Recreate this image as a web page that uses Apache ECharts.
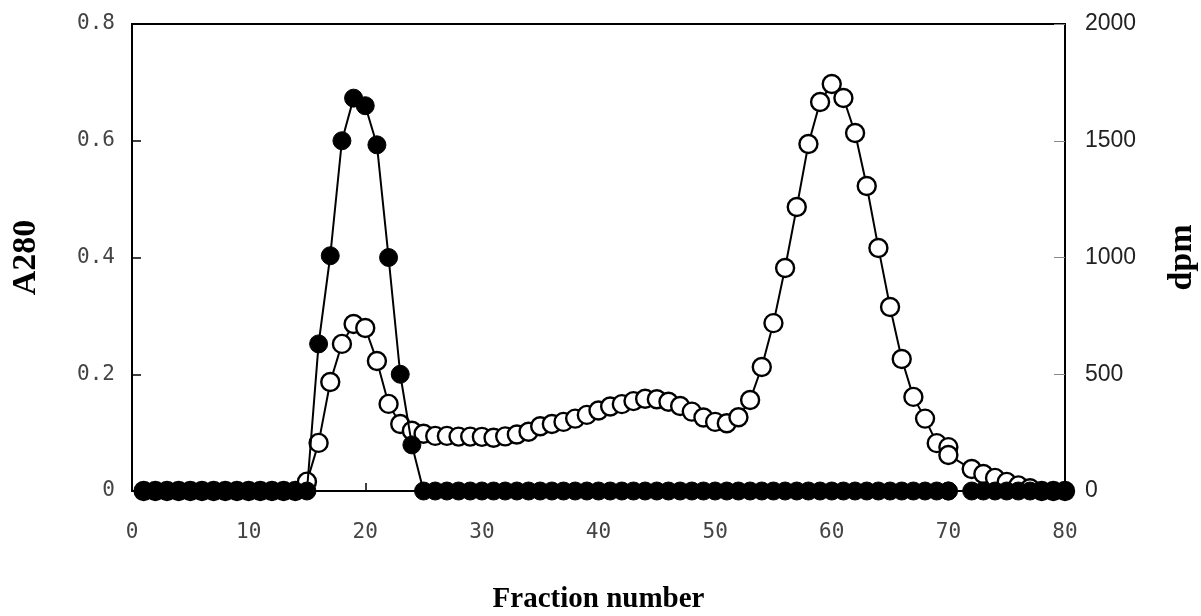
<!DOCTYPE html>
<html>
<head>
<meta charset="utf-8">
<script src="https://cdn.jsdelivr.net/npm/echarts@6/dist/echarts.min.js"></script>
<style>
  html, body { margin: 0; padding: 0; background: #fff; }
  #chart { width: 1201px; height: 616px; }
</style>
</head>
<body>
<div id="chart"></div>
<script>
// fraction numbers (fraction 71 was recorded as 70 twice)
const fractions = [1, 2, 3, 4, 5, 6, 7, 8, 9, 10, 11, 12, 13, 14, 15, 16, 17, 18, 19, 20,
  21, 22, 23, 24, 25, 26, 27, 28, 29, 30, 31, 32, 33, 34, 35, 36, 37, 38, 39, 40,
  41, 42, 43, 44, 45, 46, 47, 48, 49, 50, 51, 52, 53, 54, 55, 56, 57, 58, 59, 60,
  61, 62, 63, 64, 65, 66, 67, 68, 69, 70, 70, 72, 73, 74, 75, 76, 77, 78, 79, 80];

// A280 (filled circles, left axis)
const a280 = [0, 0, 0, 0, 0, 0, 0, 0, 0, 0, 0, 0, 0, 0, 0, 0.252, 0.403, 0.6, 0.673, 0.66,
  0.593, 0.4, 0.2, 0.079, 0, 0, 0, 0, 0, 0, 0, 0, 0, 0, 0, 0, 0, 0, 0, 0,
  0, 0, 0, 0, 0, 0, 0, 0, 0, 0, 0, 0, 0, 0, 0, 0, 0, 0, 0, 0,
  0, 0, 0, 0, 0, 0, 0, 0, 0, 0, 0, 0, 0, 0, 0, 0, 0, 0, 0, 0];

// dpm (open circles, right axis)
const dpm = [0, 0, 0, 0, 0, 0, 0, 0, 0, 0, 0, 0, 0, 0, 40, 206, 467, 630, 715, 698,
  557, 373, 287, 258, 245, 236, 236, 233, 233, 232, 228, 234, 242, 254, 277, 287, 296, 310, 326, 345,
  362, 372, 385, 395, 393, 382, 364, 340, 315, 296, 290, 316, 390, 531, 719, 955, 1216, 1486, 1666, 1743,
  1683, 1533, 1306, 1041, 788, 565, 403, 310, 205, 188, 154, 94, 73, 56, 39, 24, 12, 0, 0, 0];

const xTicks = { min: 0, max: 80, interval: 10 };
const leftTicks = { min: 0, max: 0.8, interval: 0.2 };
const rightTicks = { min: 0, max: 2000, interval: 500 };

const chart = echarts.init(document.getElementById('chart'));

const toPairs = vals => fractions.map((f, i) => [f, vals[i]]);

const labelFont = 'DejaVu Sans Mono';
const nameStyle = {
  fontFamily: 'Liberation Serif',
  fontWeight: 'bold',
  fontSize: 34,
  color: '#000'
};

const option = {
  animation: false,
  backgroundColor: '#fff',
  grid: {
    left: 132,
    right: 136,
    top: 24,
    bottom: 125,
    show: true,
    borderColor: '#000',
    borderWidth: 2,
    containLabel: false,
    outerBoundsMode: 'none'
  },
  xAxis: {
    type: 'value',
    min: xTicks.min,
    max: xTicks.max,
    interval: xTicks.interval,
    name: 'Fraction number',
    nameLocation: 'middle',
    nameGap: 94,
    nameTextStyle: Object.assign({}, nameStyle, { fontSize: 29 }),
    axisLine: { show: true, lineStyle: { color: '#000', width: 2 } },
    axisTick: { show: true, inside: true, length: 8, lineStyle: { color: '#000', width: 1.5 } },
    axisLabel: { margin: 31, fontSize: 21, color: '#444', fontFamily: labelFont },
    splitLine: { show: false }
  },
  yAxis: [
    {
      type: 'value',
      position: 'left',
      min: leftTicks.min,
      max: leftTicks.max,
      interval: leftTicks.interval,
      name: 'A280',
      nameLocation: 'middle',
      nameGap: 89,
      nameTextStyle: nameStyle,
      axisLine: { show: true, lineStyle: { color: '#000', width: 2 } },
      axisTick: { show: true, inside: true, length: 9, lineStyle: { color: '#000', width: 1.5 } },
      axisLabel: { margin: 17, fontSize: 21, color: '#444', fontFamily: labelFont },
      splitLine: { show: false }
    },
    {
      type: 'value',
      position: 'right',
      min: rightTicks.min,
      max: rightTicks.max,
      interval: rightTicks.interval,
      name: 'dpm',
      nameLocation: 'middle',
      nameGap: 100,
      nameTextStyle: nameStyle,
      axisLine: { show: true, lineStyle: { color: '#000', width: 2 } },
      axisTick: { show: true, inside: true, length: 11, lineStyle: { color: '#888', width: 1 } },
      axisLabel: {
        margin: 20,
        fontSize: 23,
        color: '#222',
        fontFamily: 'Liberation Sans',
        formatter: v => String(v)
      },
      splitLine: { show: false }
    }
  ],
  series: [
    {
      name: 'dpm',
      type: 'line',
      yAxisIndex: 1,
      data: toPairs(dpm),
      symbol: 'circle',
      symbolSize: 18,
      showAllSymbol: true,
      z: 2,
      lineStyle: { color: '#000', width: 2 },
      itemStyle: { color: '#fff', borderColor: '#000', borderWidth: 2.4 }
    },
    {
      name: 'A280',
      type: 'line',
      yAxisIndex: 0,
      data: toPairs(a280),
      symbol: 'circle',
      symbolSize: 18,
      showAllSymbol: true,
      z: 3,
      lineStyle: { color: '#000', width: 2 },
      itemStyle: { color: '#000', borderColor: '#000', borderWidth: 1 }
    }
  ]
};

chart.setOption(option);
</script>
</body>
</html>
